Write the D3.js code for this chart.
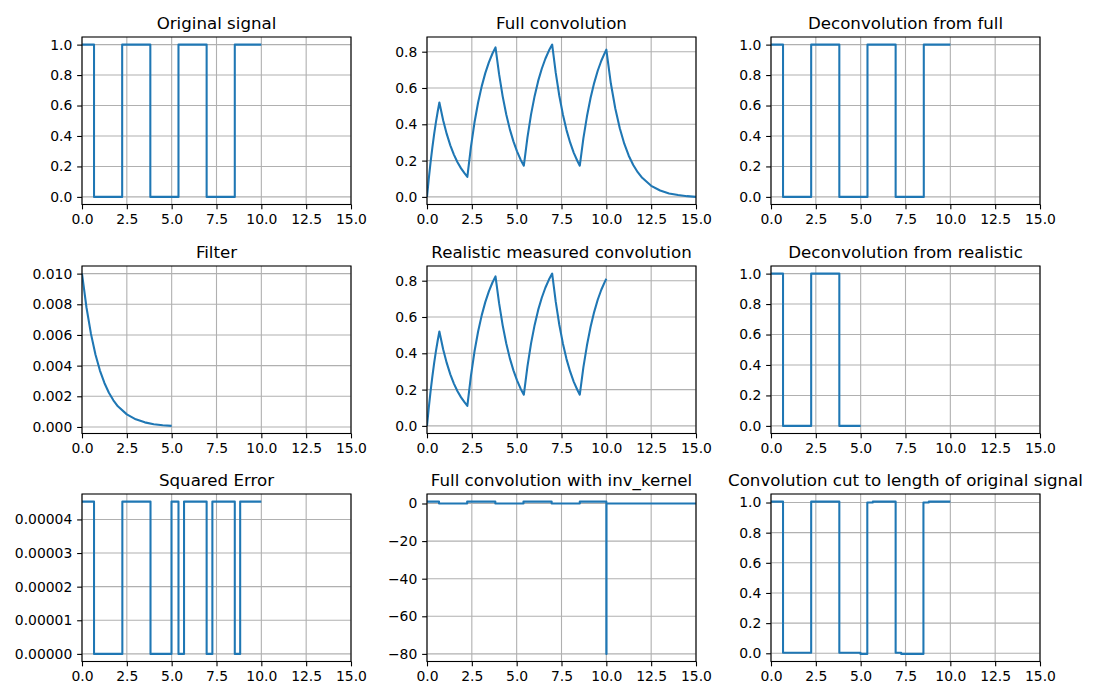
<!DOCTYPE html>
<html><head><meta charset="utf-8">
<script src="https://cdn.jsdelivr.net/npm/d3@7"></script>
<style>
body{margin:0;background:#fff;}
svg text{font-family:"DejaVu Sans",sans-serif;fill:#000;}
</style></head>
<body><svg id="chart" width="1100" height="700"></svg>
<script>
// ---------- data ----------
const xTickValues = [0, 2.5, 5, 7.5, 10, 12.5, 15];
const panelTitles = ["Original signal", "Full convolution", "Deconvolution from full",
  "Filter", "Realistic measured convolution", "Deconvolution from realistic",
  "Squared Error", "Full convolution with inv_kernel", "Convolution cut to length of original signal"];

const yTicksUnit = [0, 0.2, 0.4, 0.6, 0.8, 1.0];
const yTicksConv = [0, 0.2, 0.4, 0.6, 0.8];
const yTicksFilter = [0, 0.002, 0.004, 0.006, 0.008, 0.010];
const yTicksError = [0, 0.00001, 0.00002, 0.00003, 0.00004];
const yTicksInv = [-80, -60, -40, -20, 0];

const originalSignal = [[0,1],[0.67,0],[2.24,1],[3.81,0],[5.38,1],[6.95,0],[8.52,1],[10,1]];
const fullConvolution = [
  [0,0],[0.1,0.101],[0.2,0.192],[0.3,0.273],[0.4,0.347],[0.5,0.413],[0.6,0.472],[0.69,0.52],
  [0.9,0.422],[1.1,0.347],[1.3,0.284],[1.5,0.233],[1.7,0.191],[1.9,0.157],[2.1,0.129],[2.25,0.11],
  [2.45,0.276],[2.65,0.411],[2.85,0.52],[3.05,0.609],[3.25,0.682],[3.45,0.741],[3.65,0.79],[3.82,0.824],
  [4.02,0.676],[4.22,0.554],[4.42,0.454],[4.62,0.372],[4.82,0.306],[5.02,0.251],[5.22,0.205],[5.4,0.172],
  [5.6,0.327],[5.8,0.453],[6.0,0.555],[6.2,0.639],[6.4,0.706],[6.6,0.761],[6.8,0.806],[6.98,0.839],
  [7.18,0.683],[7.38,0.556],[7.58,0.453],[7.78,0.368],[7.98,0.3],[8.18,0.244],[8.38,0.199],[8.52,0.172],
  [8.72,0.322],[8.92,0.444],[9.12,0.545],[9.32,0.627],[9.52,0.695],[9.72,0.75],[9.92,0.795],[10,0.811],
  [10.25,0.626],[10.5,0.487],[10.75,0.378],[11,0.293],[11.25,0.227],[11.5,0.176],[11.75,0.136],[12,0.105],
  [12.5,0.061],[13,0.035],[13.5,0.019],[14,0.01],[14.5,0.004],[15,0]
];
const deconvFull = [[0,1],[0.67,0],[2.24,1],[3.81,0],[5.38,1],[6.95,0],[8.52,1],[10,1]];
const filterKernel = [
  [0,0.0100],[0.25,0.00779],[0.5,0.00607],[0.75,0.00472],[1,0.00368],[1.25,0.00287],[1.5,0.00223],
  [1.75,0.00174],[2,0.00135],[2.5,0.00082],[3,0.00050],[3.5,0.00030],[4,0.00018],[4.5,0.00011],[5,0.00007]
];
const realisticConvolution = fullConvolution.filter(p => p[0] <= 10);
const deconvRealistic = [[0,1],[0.67,0],[2.24,1],[3.81,0],[5,0]];
const squaredError = [[0,4.53e-5],[0.67,0],[2.25,4.53e-5],[3.82,0],[4.99,4.53e-5],[5.38,0],[5.69,4.53e-5],
  [6.95,0],[7.27,4.53e-5],[8.52,0],[8.82,4.53e-5],[10,4.53e-5]];
const invKernelConvolution = [[0,1],[0.67,0],[2.24,1],[3.81,0],[5.38,1],[6.95,0],[8.52,1],[10,-80],[10.01,0],[15,0]];
const cutConvolution = [[0,1.006],[0.67,0.004],[2.24,1.006],[3.81,0.004],[4.99,-0.004],[5.37,1.0],[5.68,1.006],
  [6.95,0.004],[7.26,-0.004],[8.5,1.0],[8.8,1.006],[10,1.006]];

// ---------- panels ----------
const panels = [
  {data: originalSignal, step: true, ticks: yTicksUnit, fmt: ".1f"},
  {data: fullConvolution, step: false, ticks: yTicksConv, fmt: ".1f"},
  {data: deconvFull, step: true, ticks: yTicksUnit, fmt: ".1f"},
  {data: filterKernel, step: false, ticks: yTicksFilter, fmt: ".3f"},
  {data: realisticConvolution, step: false, ticks: yTicksConv, fmt: ".1f"},
  {data: deconvRealistic, step: true, ticks: yTicksUnit, fmt: ".1f"},
  {data: squaredError, step: true, ticks: yTicksError, fmt: ".5f"},
  {data: invKernelConvolution, step: true, ticks: yTicksInv, fmt: "d"},
  {data: cutConvolution, step: true, ticks: yTicksUnit, fmt: ".1f"}
];

const colLeft = [82, 427, 771], axW = 269;
const rowTop = [37, 266, 494], axH = 167.5;
const tick = 4.86, pad = 4.86;
const svg = d3.select("#chart");

panels.forEach((p, i) => {
  const c = i % 3, r = Math.floor(i / 3);
  const g = svg.append("g").attr("transform", `translate(${colLeft[c]},${rowTop[r]})`);
  const x = d3.scaleLinear().domain([0, 15]).range([0, axW]);
  const ext = d3.extent(p.data, d => d[1]);
  const m = (ext[1] - ext[0]) * 0.05;
  const y = d3.scaleLinear().domain([ext[0] - m, ext[1] + m]).range([axH, 0]);

  // grid
  g.append("g").selectAll("line.vx").data(xTickValues).join("line")
    .attr("x1", d => x(d)).attr("x2", d => x(d)).attr("y1", 0).attr("y2", axH)
    .attr("stroke", "#b0b0b0").attr("stroke-width", 1.1);
  g.append("g").selectAll("line.hy").data(p.ticks).join("line")
    .attr("y1", d => y(d)).attr("y2", d => y(d)).attr("x1", 0).attr("x2", axW)
    .attr("stroke", "#b0b0b0").attr("stroke-width", 1.1);

  // clip
  const cid = "clip" + i;
  g.append("clipPath").attr("id", cid).append("rect").attr("width", axW).attr("height", axH);

  const line = d3.line().x(d => x(d[0])).y(d => y(d[1]))
    .curve(p.step ? d3.curveStepAfter : d3.curveLinear);
  g.append("path").datum(p.data).attr("clip-path", `url(#${cid})`)
    .attr("d", line).attr("fill", "none").attr("stroke", "#1f77b4")
    .attr("stroke-width", 2.08).attr("stroke-linejoin", "round");

  // axes
  const xa = g.append("g").attr("transform", `translate(0,${axH})`)
    .call(d3.axisBottom(x).tickValues(xTickValues).tickFormat(d3.format(".1f")).tickSize(tick).tickPadding(pad));
  const ya = g.append("g")
    .call(d3.axisLeft(y).tickValues(p.ticks).tickFormat(d3.format(p.fmt)).tickSize(tick).tickPadding(pad));
  [xa, ya].forEach(a => {
    a.select(".domain").remove();
    a.selectAll("line").attr("stroke", "#000").attr("stroke-width", 1.1);
    a.selectAll("text").style("font-size", "13.9px").style("font-family", "'DejaVu Sans',sans-serif").attr("fill", "#000");
  });

  // frame
  g.append("rect").attr("width", axW).attr("height", axH)
    .attr("fill", "none").attr("stroke", "#000").attr("stroke-width", 1.1);

  // title
  g.append("text").attr("x", axW / 2).attr("y", -8.3).attr("text-anchor", "middle")
    .style("font-size", "16.67px").text(panelTitles[i]);
});
</script>
</body></html>
